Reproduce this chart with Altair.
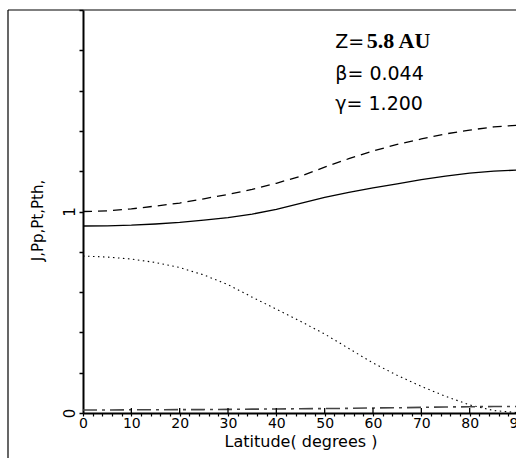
import altair as alt
import pandas as pd

# Latitude samples (degrees)
lat = [0, 5, 10, 15, 20, 25, 30, 35, 40, 45, 50, 55, 60, 65, 70, 75, 80, 85, 90]

# Series values
pt_dashed = [1.000, 1.003, 1.013, 1.027, 1.042, 1.063, 1.085, 1.110, 1.140, 1.175,
             1.220, 1.262, 1.300, 1.333, 1.360, 1.385, 1.404, 1.420, 1.428]
j_solid = [0.928, 0.929, 0.932, 0.938, 0.946, 0.957, 0.970, 0.987, 1.010, 1.040,
           1.070, 1.095, 1.117, 1.137, 1.158, 1.176, 1.190, 1.200, 1.206]
pp_dotted = [0.779, 0.774, 0.764, 0.747, 0.722, 0.685, 0.637, 0.575, 0.515, 0.455,
             0.392, 0.320, 0.248, 0.187, 0.132, 0.083, 0.040, 0.012, 0.002]
pth_dashdot = [0.015, 0.015, 0.016, 0.016, 0.017, 0.017, 0.018, 0.019, 0.020, 0.021,
               0.022, 0.023, 0.025, 0.026, 0.028, 0.030, 0.031, 0.032, 0.032]

x_major = [10, 20, 30, 40, 50, 60, 70, 80, 90]
x_ticks = list(range(0, 91, 2))
y_ticks = [0, 0.2, 0.4, 0.6, 0.8, 1.0, 1.2, 1.4, 1.6, 1.8, 2.0]

ann_sans = ["Z=", "\u03b2= 0.044", "\u03b3= 1.200"]
ann_x = [52.2, 52.2, 52.2]
ann_y = [1.81, 1.652, 1.503]
bold_text = ["5.8 AU"]
bold_x = [58.7]
bold_y = [1.81]

W, H = 433, 403

xscale = alt.Scale(domain=[0, 90], range=[0, 435], nice=False, zero=False)
yscale = alt.Scale(domain=[0, 2], nice=False, zero=True)

xaxis = alt.Axis(values=x_ticks, tickSize=3, tickWidth=1.2, tickColor="black",
                 domainColor="black", domainWidth=1.8,
                 labelExpr="datum.value % 10 == 0 ? datum.label : ''",
                 labelFontSize=14, labelPadding=0, labelBaseline="top",
                 labelFlush=False, labelOverlap=False, labelColor="black",
                 labelFont="DejaVu Sans", grid=False,
                 titleFont="DejaVu Sans", titleFontSize=16, titleFontWeight="normal",
                 titleColor="black", titlePadding=3)
yaxis = alt.Axis(values=y_ticks, tickSize=4, tickWidth=1.5, tickColor="black",
                 domainColor="black", domainWidth=2,
                 labelExpr="datum.value == 0 ? '0' : (datum.value == 1 ? '1' : '')",
                 labelAngle=270, labelAlign="center", labelBaseline="bottom",
                 labelPadding=2, labelFontSize=15, labelColor="black",
                 labelFont="DejaVu Sans", labelFlush=False, labelOverlap=False,
                 grid=False, titleFont="DejaVu Sans", titleFontSize=15,
                 titleFontWeight="normal", titleColor="black",
                 titleX=-38, titleY=210, titleAngle=270,
                 titleBaseline="bottom", titleAlign="center")

XT = "Latitude( degrees )"
YT = "J,Pp,Pt,Pth,"

def series(vals):
    return pd.DataFrame({"lat": lat, "v": vals})

def xenc():
    return alt.X("lat:Q", scale=xscale, axis=xaxis, title=XT)

def yenc():
    return alt.Y("v:Q", scale=yscale, axis=yaxis, title=YT)

dashed = alt.Chart(series(pt_dashed)).mark_line(
    color="black", strokeWidth=1.3, strokeDash=[9, 6]).encode(x=xenc(), y=yenc())
solid = alt.Chart(series(j_solid)).mark_line(
    color="black", strokeWidth=1.3).encode(x=xenc(), y=yenc())
dotted = alt.Chart(series(pp_dotted)).mark_line(
    color="black", strokeWidth=1.1, strokeDash=[1.5, 3.5]).encode(x=xenc(), y=yenc())
dashdot = alt.Chart(series(pth_dashdot)).mark_line(
    color="#444444", strokeWidth=1.6, strokeDash=[14, 5, 3, 5]).encode(x=xenc(), y=yenc())

# Upward major ticks on the x axis
major = alt.Chart(pd.DataFrame({"lat": x_major})).mark_rule(
    color="black", strokeWidth=1.3).encode(
    x=xenc(), y=alt.value(H), y2=alt.value(H - 5))

# Outer frame lines
frame_left = alt.Chart(pd.DataFrame({"a": [0]})).mark_rule(
    color="black", strokeWidth=1.2).encode(
    x=alt.value(-75), y=alt.value(0), y2=alt.value(450))
frame_top = alt.Chart(pd.DataFrame({"a": [0]})).mark_rule(
    color="black", strokeWidth=1.2).encode(
    x=alt.value(-75), x2=alt.value(W + 5), y=alt.value(0))

ann = alt.Chart(pd.DataFrame({"t": ann_sans, "lat": ann_x, "v": ann_y})).mark_text(
    align="left", baseline="alphabetic", font="DejaVu Sans", fontSize=19,
    color="black").encode(x=xenc(), y=yenc(), text="t:N")
ann_bold = alt.Chart(pd.DataFrame({"t": bold_text, "lat": bold_x, "v": bold_y})).mark_text(
    align="left", baseline="alphabetic", font="Liberation Serif", fontSize=22,
    fontWeight="bold", color="black").encode(x=xenc(), y=yenc(), text="t:N")

chart = alt.layer(frame_left, frame_top, dashdot, dotted, solid, dashed, major,
                  ann, ann_bold).properties(
    width=W, height=H,
    autosize=alt.AutoSizeParams(type="none"),
    padding={"left": 83, "top": 10, "right": 0, "bottom": 45},
    background="white",
).configure_view(stroke=None)

chart.save("out.html", embed_options={"renderer": "svg", "actions": False})
